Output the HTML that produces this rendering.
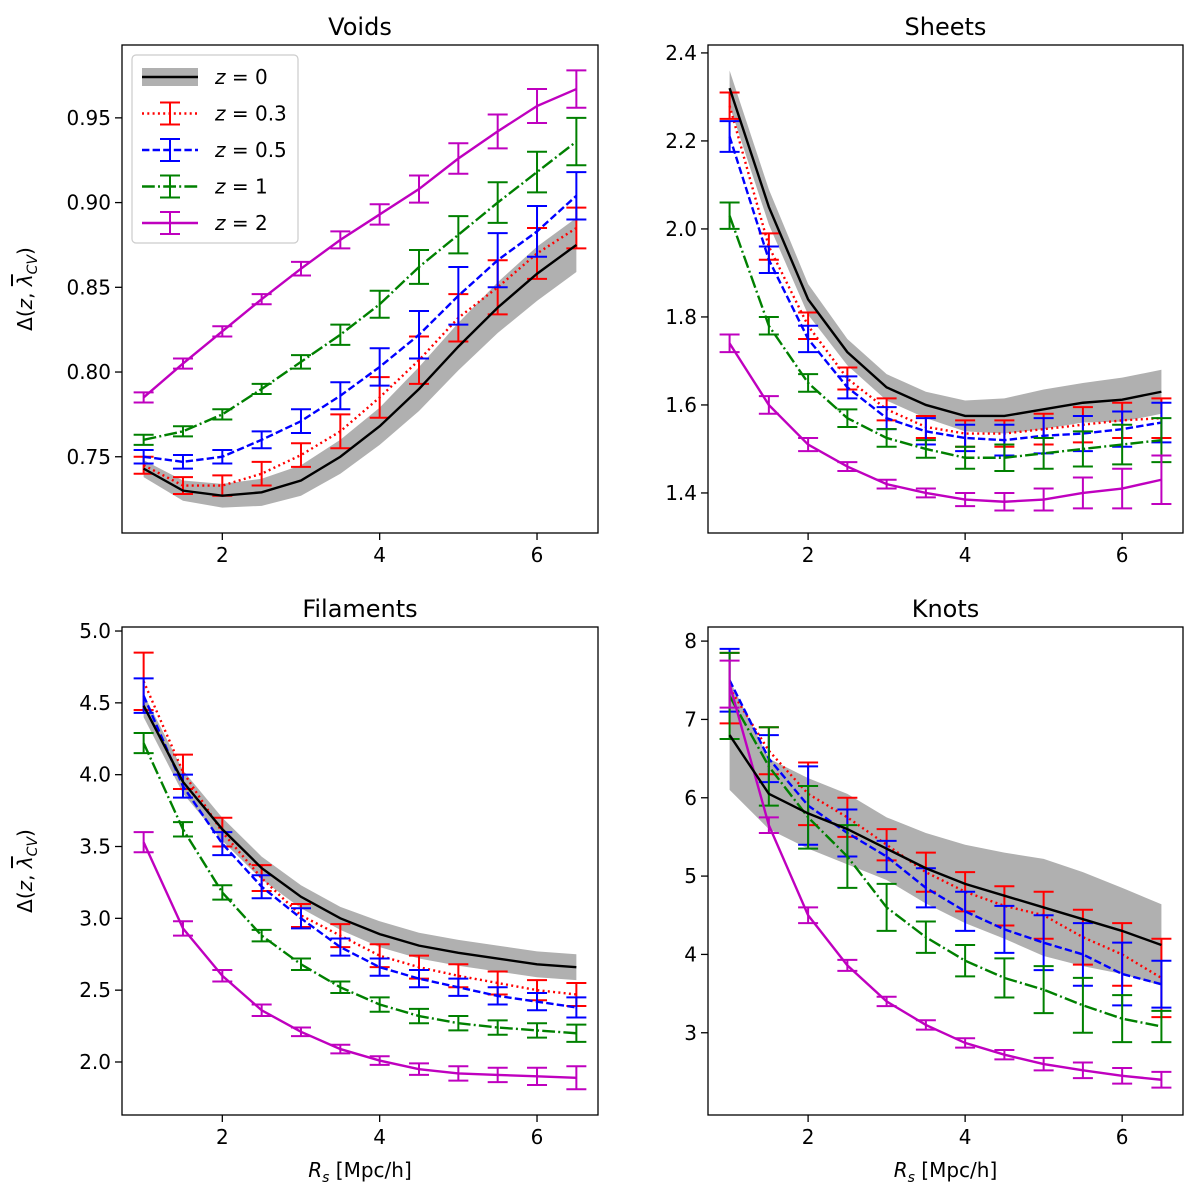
<!DOCTYPE html>
<html><head><meta charset="utf-8">
<style>
body{margin:0;background:#fff;}
svg{display:block;font-family:"DejaVu Sans","Liberation Sans",sans-serif;}
</style></head>
<body>
<svg id="fig" width="1200" height="1195" viewBox="0 0 1200 1195" xmlns="http://www.w3.org/2000/svg"></svg>
<script>
const xs = [1,1.5,2,2.5,3,3.5,4,4.5,5,5.5,6,6.5];
const xTicks = [2,4,6];
const xTickLabels = ["2","4","6"];

// Voids
const voidsZ0 = [0.743,0.730,0.727,0.729,0.736,0.750,0.768,0.790,0.815,0.838,0.858,0.875];
const voidsZ0Err = [0.005,0.006,0.007,0.008,0.009,0.010,0.011,0.013,0.014,0.015,0.016,0.016];
const voidsZ03 = [0.745,0.733,0.733,0.740,0.751,0.765,0.785,0.807,0.832,0.850,0.870,0.885];
const voidsZ03Err = [0.005,0.005,0.006,0.007,0.007,0.010,0.012,0.014,0.014,0.016,0.015,0.012];
const voidsZ05 = [0.750,0.747,0.750,0.760,0.771,0.786,0.803,0.822,0.845,0.866,0.883,0.904];
const voidsZ05Err = [0.004,0.004,0.004,0.005,0.007,0.008,0.011,0.014,0.017,0.016,0.015,0.014];
const voidsZ1 = [0.760,0.765,0.775,0.790,0.806,0.822,0.840,0.862,0.881,0.900,0.918,0.936];
const voidsZ1Err = [0.003,0.003,0.003,0.003,0.004,0.006,0.008,0.010,0.011,0.012,0.012,0.014];
const voidsZ2 = [0.785,0.805,0.824,0.843,0.861,0.878,0.893,0.908,0.926,0.942,0.957,0.967];
const voidsZ2Err = [0.003,0.003,0.003,0.003,0.004,0.005,0.006,0.008,0.009,0.010,0.010,0.011];
const voidsTicks = [0.75,0.80,0.85,0.90,0.95];
const voidsTickLabels = ["0.75","0.80","0.85","0.90","0.95"];

// Sheets
const sheetsZ0 = [2.32,2.05,1.84,1.72,1.64,1.60,1.575,1.575,1.59,1.605,1.612,1.63];
const sheetsZ0Err = [0.04,0.04,0.035,0.03,0.03,0.03,0.035,0.04,0.045,0.045,0.05,0.05];
const sheetsZ03 = [2.28,1.96,1.78,1.66,1.59,1.55,1.535,1.535,1.545,1.555,1.565,1.57];
const sheetsZ03Err = [0.03,0.03,0.03,0.025,0.025,0.025,0.03,0.03,0.035,0.04,0.04,0.045];
const sheetsZ05 = [2.21,1.93,1.75,1.64,1.57,1.54,1.525,1.52,1.53,1.535,1.545,1.56];
const sheetsZ05Err = [0.035,0.03,0.03,0.025,0.025,0.03,0.03,0.035,0.04,0.04,0.04,0.045];
const sheetsZ1 = [2.03,1.78,1.65,1.57,1.525,1.50,1.48,1.48,1.49,1.50,1.51,1.52];
const sheetsZ1Err = [0.03,0.02,0.02,0.02,0.02,0.02,0.025,0.03,0.035,0.04,0.045,0.05];
const sheetsZ2 = [1.74,1.60,1.51,1.46,1.42,1.40,1.385,1.38,1.385,1.40,1.41,1.43];
const sheetsZ2Err = [0.02,0.02,0.015,0.01,0.01,0.01,0.015,0.02,0.025,0.035,0.045,0.055];
const sheetsTicks = [1.4,1.6,1.8,2.0,2.2,2.4];
const sheetsTickLabels = ["1.4","1.6","1.8","2.0","2.2","2.4"];

// Filaments
const filZ0 = [4.48,3.95,3.62,3.35,3.15,3.00,2.89,2.81,2.76,2.72,2.68,2.66];
const filZ0Err = [0.08,0.08,0.08,0.08,0.08,0.08,0.09,0.09,0.09,0.09,0.09,0.09];
const filZ03 = [4.65,4.02,3.60,3.28,3.02,2.88,2.74,2.66,2.60,2.55,2.50,2.47];
const filZ03Err = [0.2,0.12,0.1,0.09,0.08,0.08,0.08,0.08,0.08,0.08,0.07,0.08];
const filZ05 = [4.55,3.92,3.52,3.22,3.00,2.80,2.66,2.58,2.52,2.46,2.42,2.38];
const filZ05Err = [0.12,0.08,0.08,0.08,0.07,0.06,0.06,0.06,0.06,0.06,0.06,0.07];
const filZ1 = [4.22,3.62,3.18,2.88,2.68,2.52,2.40,2.32,2.27,2.24,2.22,2.20];
const filZ1Err = [0.07,0.05,0.05,0.04,0.04,0.04,0.05,0.05,0.05,0.05,0.05,0.06];
const filZ2 = [3.53,2.93,2.60,2.36,2.21,2.09,2.01,1.95,1.92,1.91,1.90,1.89];
const filZ2Err = [0.07,0.05,0.04,0.04,0.03,0.03,0.03,0.04,0.05,0.05,0.06,0.08];
const filTicks = [2.0,2.5,3.0,3.5,4.0,4.5,5.0];
const filTickLabels = ["2.0","2.5","3.0","3.5","4.0","4.5","5.0"];

// Knots
const knotsZ0 = [6.8,6.05,5.80,5.60,5.35,5.10,4.90,4.75,4.60,4.45,4.30,4.12];
const knotsZ0Err = [0.7,0.45,0.45,0.45,0.4,0.45,0.5,0.55,0.62,0.6,0.55,0.52];
const knotsZ03 = [7.4,6.6,6.05,5.75,5.40,5.05,4.80,4.62,4.50,4.22,4.00,3.70];
const knotsZ03Err = [0.45,0.3,0.4,0.25,0.2,0.25,0.25,0.25,0.3,0.35,0.4,0.5];
const knotsZ05 = [7.5,6.5,5.9,5.55,5.25,4.85,4.55,4.32,4.15,4.00,3.75,3.62];
const knotsZ05Err = [0.4,0.3,0.5,0.3,0.2,0.25,0.25,0.3,0.35,0.4,0.4,0.3];
const knotsZ1 = [7.3,6.4,5.75,5.25,4.60,4.22,3.92,3.70,3.55,3.35,3.18,3.08];
const knotsZ1Err = [0.55,0.5,0.4,0.4,0.3,0.2,0.2,0.25,0.3,0.35,0.3,0.2];
const knotsZ2 = [7.45,5.65,4.50,3.86,3.40,3.10,2.87,2.72,2.60,2.52,2.45,2.40];
const knotsZ2Err = [0.3,0.1,0.1,0.07,0.06,0.06,0.06,0.06,0.08,0.1,0.1,0.1];
const knotsTicks = [3,4,5,6,7,8];
const knotsTickLabels = ["3","4","5","6","7","8"];

const NS = "http://www.w3.org/2000/svg";
const svg = document.getElementById("fig");
function mk(tag, attrs, parent){
  const e = document.createElementNS(NS, tag);
  for (const k in attrs) e.setAttribute(k, attrs[k]);
  (parent||svg).appendChild(e);
  return e;
}
const seriesStyle = {
  z03:{color:"#ff0000", dash:"2,3.3"},
  z05:{color:"#0000ff", dash:"7.4,3.2"},
  z1:{color:"#008000", dash:"12.8,3.2,2,3.2"},
  z2:{color:"#bf00bf", dash:""}
};

function panel(cfg){
  const g = mk("g", {});
  
  
  const L=cfg.x0, R=cfg.x1, T=cfg.y0, B=cfg.y1;
  const xmin=0.725, xmax=6.775;
  const sx = v => L + (v - xmin)/(xmax - xmin)*(R-L);
  const sy = v => B - (v - cfg.ymin)/(cfg.ymax - cfg.ymin)*(B-T);
  const clip = mk("clipPath", {id:"clip-"+cfg.name}, g);
  mk("rect", {x:L, y:T, width:R-L, height:B-T}, clip);
  const plot = mk("g", {"clip-path":"url(#clip-"+cfg.name+")"}, g);
  let top = xs.map((x,i)=>sx(x)+","+sy(cfg.z0[i]+cfg.z0e[i]));
  let bot = xs.map((x,i)=>sx(x)+","+sy(cfg.z0[i]-cfg.z0e[i])).reverse();
  const band = mk("polygon", {points: top.concat(bot).join(" "), fill:"#b0b0b0", stroke:"none"}, plot);
  
  
  const order = ["z03","z05","z1","z2"];
  order.forEach(k=>{
    const st = seriesStyle[k];
    const vals = cfg[k], errs = cfg[k+"e"];
    const sg = mk("g", {}, plot);
    
    
    const line = mk("polyline", {points: xs.map((x,i)=>sx(x)+","+sy(vals[i])).join(" "), fill:"none", stroke:st.color, "stroke-width":2.4, "stroke-dasharray":st.dash}, sg);
    
    
    xs.forEach((x,i)=>{
      const px=sx(x), y1=sy(vals[i]+errs[i]), y2=sy(vals[i]-errs[i]);
      const eb = mk("path", {d:`M${px},${y1}V${y2}M${px-10},${y1}H${px+10}M${px-10},${y2}H${px+10}`, stroke:st.color, "stroke-width":2, fill:"none"}, sg);
      
      
    });
  });
  const l0 = mk("polyline", {points: xs.map((x,i)=>sx(x)+","+sy(cfg.z0[i])).join(" "), fill:"none", stroke:"#000", "stroke-width":2.4}, plot);
  
  
  const fr = mk("rect", {x:L, y:T, width:R-L, height:B-T, fill:"none", stroke:"#000", "stroke-width":1.3}, g);
  
  
  xTicks.forEach((t,i)=>{
    const px=sx(t);
    mk("line", {x1:px,x2:px,y1:B,y2:B+7,stroke:"#000","stroke-width":1.3}, g);
    const tx = mk("text", {x:px,y:B+29,"text-anchor":"middle","font-size":20}, g);
    tx.textContent = xTickLabels[i];
    
    
  });
  cfg.ticks.forEach((t,i)=>{
    const py=sy(t);
    mk("line", {x1:L-7,x2:L,y1:py,y2:py,stroke:"#000","stroke-width":1.3}, g);
    const tx = mk("text", {x:L-11,y:py+7,"text-anchor":"end","font-size":20}, g);
    tx.textContent = cfg.tickLabels[i];
    
    
  });
  const ti = mk("text", {x:(L+R)/2, y:T-10, "text-anchor":"middle","font-size":24}, g);
  ti.textContent = cfg.title;
  
  
  if (cfg.ylabel){
    const yl = mk("text", {x:0,y:0,"text-anchor":"middle","font-size":20,transform:`translate(32,${(T+B)/2}) rotate(-90)`}, g);
    yl.innerHTML = 'Δ(<tspan font-style="italic">z</tspan>, <tspan font-style="italic" text-decoration="overline">λ</tspan><tspan font-style="italic" font-size="14" dy="5">CV</tspan><tspan dy="-5">)</tspan>';
    
    
  }
  if (cfg.xlabel){
    const xl = mk("text", {x:(L+R)/2,y:B+62,"text-anchor":"middle","font-size":20}, g);
    xl.innerHTML = '<tspan font-style="italic">R</tspan><tspan font-style="italic" font-size="14" dy="5">s</tspan><tspan dy="-5"> [Mpc/h]</tspan>';
    
    
  }
}

panel({name:"voids", title:"Voids", x0:122,x1:598,y0:45,y1:533, ymin:0.705, ymax:0.993,
  z0:voidsZ0,z0e:voidsZ0Err,z03:voidsZ03,z03e:voidsZ03Err,z05:voidsZ05,z05e:voidsZ05Err,z1:voidsZ1,z1e:voidsZ1Err,z2:voidsZ2,z2e:voidsZ2Err,
  ticks:voidsTicks,tickLabels:voidsTickLabels, ylabel:true});
panel({name:"sheets", title:"Sheets", x0:708,x1:1183,y0:45,y1:533, ymin:1.309, ymax:2.418,
  z0:sheetsZ0,z0e:sheetsZ0Err,z03:sheetsZ03,z03e:sheetsZ03Err,z05:sheetsZ05,z05e:sheetsZ05Err,z1:sheetsZ1,z1e:sheetsZ1Err,z2:sheetsZ2,z2e:sheetsZ2Err,
  ticks:sheetsTicks,tickLabels:sheetsTickLabels});
panel({name:"filaments", title:"Filaments", x0:122,x1:598,y0:627,y1:1115, ymin:1.631, ymax:5.028,
  z0:filZ0,z0e:filZ0Err,z03:filZ03,z03e:filZ03Err,z05:filZ05,z05e:filZ05Err,z1:filZ1,z1e:filZ1Err,z2:filZ2,z2e:filZ2Err,
  ticks:filTicks,tickLabels:filTickLabels, ylabel:true, xlabel:true});
panel({name:"knots", title:"Knots", x0:708,x1:1183,y0:627,y1:1115, ymin:1.95, ymax:8.18,
  z0:knotsZ0,z0e:knotsZ0Err,z03:knotsZ03,z03e:knotsZ03Err,z05:knotsZ05,z05e:knotsZ05Err,z1:knotsZ1,z1e:knotsZ1Err,z2:knotsZ2,z2e:knotsZ2Err,
  ticks:knotsTicks,tickLabels:knotsTickLabels, xlabel:true});

const lg = mk("g", {});


mk("rect", {x:132,y:55,width:166,height:188,rx:4,fill:"#fff","fill-opacity":0.85,stroke:"#ccc","stroke-width":1.2}, lg);
const legLabels = ["0","0.3","0.5","1","2"];
const legKeys = ["z0","z03","z05","z1","z2"];
legKeys.forEach((k,i)=>{
  const y = 77 + i*36.5;
  const e = mk("g", {}, lg);
  
  
  if (k==="z0"){
    mk("rect", {x:142,y:y-9,width:56,height:18,fill:"#b0b0b0"}, e);
    mk("line", {x1:142,x2:198,y1:y,y2:y,stroke:"#000","stroke-width":2.4}, e);
  } else {
    const st = seriesStyle[k];
    mk("line", {x1:142,x2:198,y1:y,y2:y,stroke:st.color,"stroke-width":2.4,"stroke-dasharray":st.dash}, e);
    mk("path", {d:`M170,${y-11}V${y+11}M160,${y-11}H180M160,${y+11}H180`,stroke:st.color,"stroke-width":2,fill:"none"}, e);
  }
  const t = mk("text", {x:215,y:y+7,"font-size":20}, e);
  t.innerHTML = '<tspan font-style="italic">z</tspan> = ' + legLabels[i];
});
</script>
</body></html>
